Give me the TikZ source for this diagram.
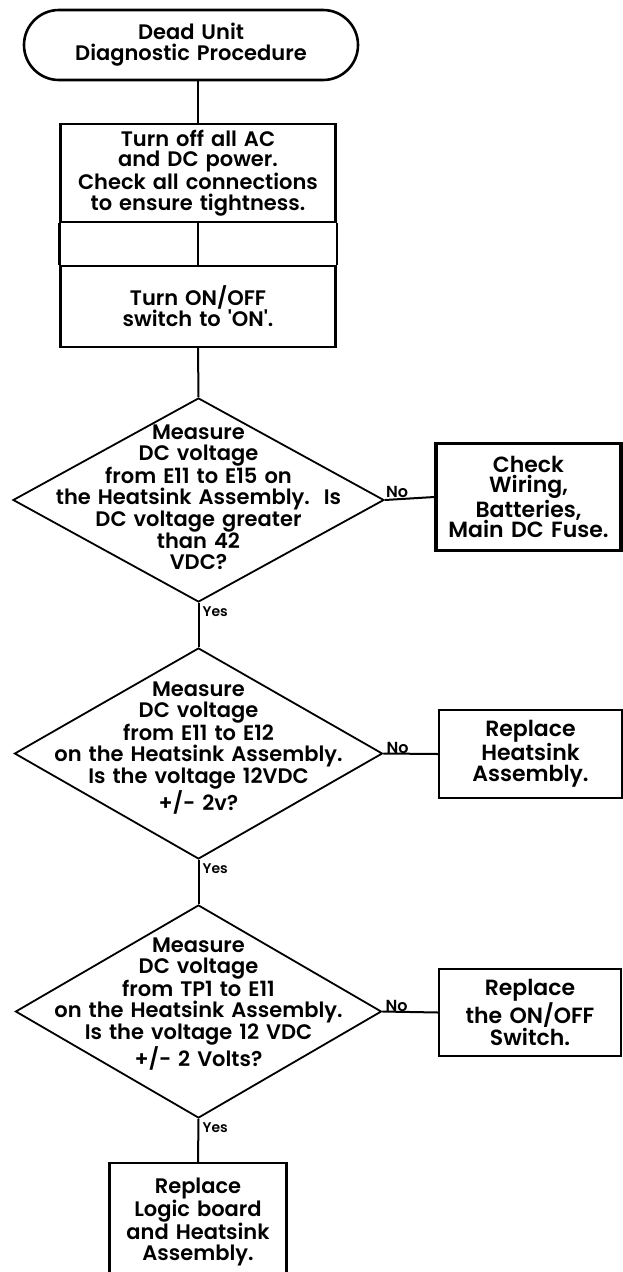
\documentclass[tikz,border=0pt]{standalone}
\usepackage{fontspec}
\setmainfont{Poppins}[UprightFont={* SemiBold}, BoldFont={* Bold}, WordSpace=1.4]
\usetikzlibrary{shapes.geometric}
\begin{document}
\begin{tikzpicture}[x=1pt,y=-1pt,
  txt/.style={font=\fontsize{21}{20.8}\selectfont, align=center, inner sep=0pt},
  terminal/.style={txt, draw, rectangle, rounded corners=35pt, line width=2.6pt,
    minimum width=334pt, minimum height=70pt},
  stepbox/.style={txt, draw, rectangle, line width=2.4pt},
  sidebox/.style={txt, font=\fontsize{22}{20.6}\selectfont, draw, rectangle, line width=2pt},
  decision/.style={draw, diamond, inner sep=0pt, line width=1.8pt},
  link/.style={line width=2pt},
  answer/.style={font=\fontsize{14}{15}\selectfont, inner sep=0pt},
  noanswer/.style={font=\fontsize{16}{17}\selectfont, inner sep=0pt}
]
\fill[white] (0,0) rectangle (623,1272);
\clip (0,0) rectangle (623,1272);

% start of the procedure
\node[terminal] (start) at (191,45) {Dead Unit\\Diagnostic Procedure};

% first actions
\node[stepbox, minimum width=275pt, minimum height=98pt] (off) at (198,173)
  {Turn off all AC\\and DC power.\\Check all connections\\to ensure tightness.};
\node[stepbox, minimum width=275pt, minimum height=81pt] (on) at (198,306.5)
  {Turn ON/OFF\\switch to \textquotesingle ON\textquotesingle.};
\draw[line width=2.4pt] (off.south west) -- (on.north west);
\draw[line width=2.4pt] (off.south east) -- (on.north east);

% first check: supply voltage
\node[decision, minimum width=371pt, minimum height=204pt] (q1) at (198.5,500) {};
\node[txt] (q1t) at (198.5,497)
  {Measure\\DC voltage\\from E11 to E15 on\\the Heatsink Assembly.\ \ Is\\DC voltage greater\\than 42\\VDC?};
\node[sidebox, line width=3.4pt, minimum width=185pt, minimum height=107pt] (fix1) at (528.5,497)
  {Check\\Wiring,\\Batteries,\\Main DC Fuse.};

% second check: 12 V supply
\node[decision, minimum width=368pt, minimum height=211pt] (q2) at (198.5,753.5) {};
\node[txt] (q2t) at (198.5,748)
  {Measure\\DC voltage\\from E11 to E12\\on the Heatsink Assembly.\\Is the voltage 12VDC\\+/- 2v?};
\node[sidebox, minimum width=183pt, minimum height=88pt] (fix2) at (530.5,754)
  {Replace\\Heatsink\\Assembly.};

% third check: switch output
\node[decision, minimum width=366pt, minimum height=213pt] (q3) at (198.5,1011.5) {};
\node[txt] (q3t) at (198.5,1004)
  {Measure\\DC voltage\\from TP1 to E11\\on the Heatsink Assembly.\\Is the voltage 12 VDC\\+/- 2 Volts?};
\node[sidebox, line width=1.6pt, minimum width=182pt, minimum height=87pt] (fix3) at (530,1012.5)
  {Replace\\the ON/OFF\\Switch.};

% last resort
\node[stepbox, minimum width=177pt, minimum height=117pt] (fix4) at (198,1221.5)
  {Replace\\Logic board\\and Heatsink\\Assembly.};

% connectors down the main column
\draw[link] (off.north) -- (off.north |- start.south);
\draw[link] (off.south) -- (on.north);
\draw[link] (on.south) -- (q1.north);
\draw[link] (q1.south) -- (q2.north);
\draw[link] (q2.south) -- (q3.north);
\draw[link] (q3.south) -- (fix4.north);

% "No" branches
\draw[link] (q1.east) -- (fix1.west);
\draw[link] (q2.east) -- (fix2.west);
\draw[link] (q3.east) -- (fix3.west);

% branch labels
\node[noanswer, anchor=south west] (n1) at ([xshift=1pt, yshift=2pt]q1.east) {No};
\node[noanswer, anchor=base west] (n2) at ([xshift=3pt]q2.east) {No};
\node[noanswer, anchor=base west] (n3) at ([xshift=3pt]q3.east) {No};
\node[answer, anchor=north west] (y1) at ([xshift=4pt, yshift=-4pt]q1.south) {Yes};
\node[answer, anchor=north west] (y2) at ([xshift=4pt, yshift=-4pt]q2.south) {Yes};
\node[answer, anchor=north west] (y3) at ([xshift=4pt, yshift=-4pt]q3.south) {Yes};
\end{tikzpicture}
\end{document}
